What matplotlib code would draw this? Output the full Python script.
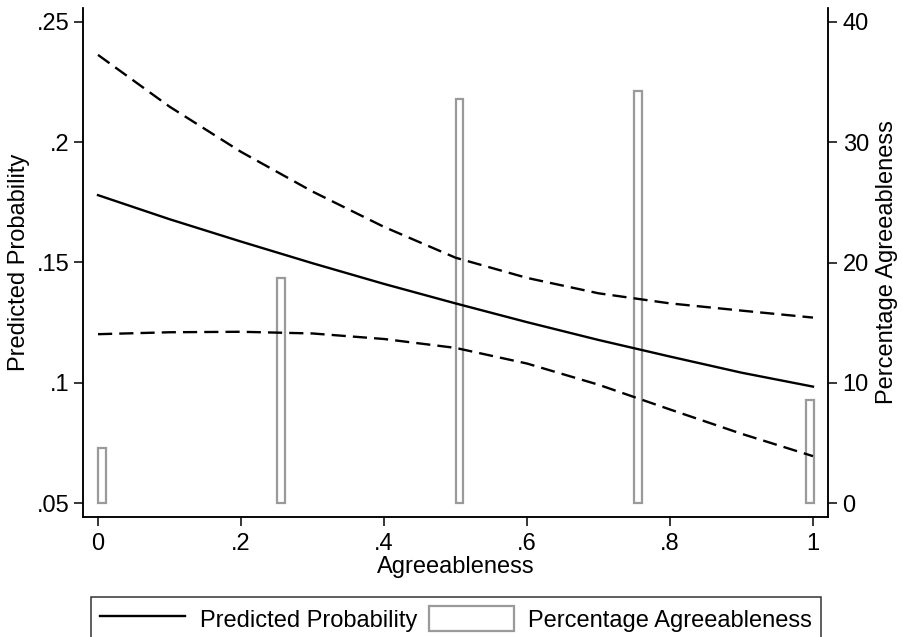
import numpy as np
import matplotlib
matplotlib.use("Agg")
import matplotlib.pyplot as plt
from matplotlib.lines import Line2D
from matplotlib.patches import Patch

plt.rcParams['font.family'] = ['Liberation Sans', 'DejaVu Sans']

# predicted probability with confidence bounds
agree = [0.0, 0.1, 0.2, 0.3, 0.4, 0.5, 0.6, 0.7, 0.8, 0.9, 1.0]
pred = [0.178, 0.168, 0.1587, 0.1497, 0.1411, 0.133, 0.1252, 0.1178, 0.1109, 0.1042, 0.0984]
upper = [0.2363, 0.2148, 0.196, 0.1795, 0.1648, 0.152, 0.1436, 0.1372, 0.133, 0.130, 0.1271]
lower = [0.1202, 0.121, 0.1212, 0.1205, 0.1182, 0.1145, 0.108, 0.0992, 0.0889, 0.0788, 0.0695]

# percentage distribution of agreeableness
bar_x = [0.0, 0.25, 0.5, 0.75, 0.99]
bar_pct = [4.6, 18.7, 33.6, 34.3, 8.6]

left_ticks = [0.05, 0.1, 0.15, 0.2, 0.25]
left_labels = ['.05', '.1', '.15', '.2', '.25']
right_ticks = [0, 10, 20, 30, 40]
x_ticks = [0, 0.2, 0.4, 0.6, 0.8, 1.0]
x_labels = ['0', '.2', '.4', '.6', '.8', '1']

fs = 17
fig = plt.figure(figsize=(9.04, 6.37), dpi=100)
ax = fig.add_axes([83 / 904, 1 - 517 / 637, 745 / 904, 509 / 637])
ax2 = ax.twinx()

ax2.bar(bar_x, bar_pct, width=0.011, align='edge', facecolor='white',
        edgecolor='#9a9a9a', linewidth=1.6)

ax.plot(agree, pred, color='black', lw=1.7)
ax.plot(agree, upper, color='black', lw=1.7, dashes=(6, 3))
ax.plot(agree, lower, color='black', lw=1.7, dashes=(6, 3))

ax.set_zorder(ax2.get_zorder() + 1)
ax.patch.set_visible(False)

ax.set_xlim(-0.021, 1.021)
ax.set_ylim(0.0442, 0.2558)
ax2.set_ylim(-1.164, 41.164)

ax.set_xticks(x_ticks)
ax.set_xticklabels(x_labels)
ax.set_yticks(left_ticks)
ax.set_yticklabels(left_labels)
ax2.set_yticks(right_ticks)

for a in (ax, ax2):
    a.spines['top'].set_visible(False)
    for s in ('left', 'right', 'bottom'):
        a.spines[s].set_linewidth(1.1)
    a.tick_params(labelsize=fs, length=6.5, width=1.1)
ax.tick_params(axis='x', pad=5)
ax.tick_params(axis='y', pad=3)
ax2.tick_params(axis='y', pad=4)

ax.set_xlabel('Agreeableness', fontsize=fs, labelpad=1)
ax.set_ylabel('Predicted Probability', fontsize=fs, labelpad=5)
ax2.set_ylabel('Percentage Agreeableness', fontsize=fs, labelpad=5)

handles = [Line2D([], [], color='black', lw=1.7),
           Patch(facecolor='white', edgecolor='#9a9a9a', linewidth=1.6)]
leg = fig.legend(handles, ['Predicted Probability', 'Percentage Agreeableness'],
                 loc='upper left', ncol=2, mode='expand',
                 bbox_to_anchor=(91 / 904, 1 - 597 / 637 - 0.01, 730 / 904, 0.01),
                 fontsize=fs, fancybox=False, frameon=True, borderaxespad=0,
                 handlelength=3.6, handleheight=1.2, handletextpad=0.6,
                 borderpad=0.4)
leg.get_frame().set_edgecolor('black')
leg.get_frame().set_linewidth(1.1)

fig.savefig('out.png', dpi=100)
